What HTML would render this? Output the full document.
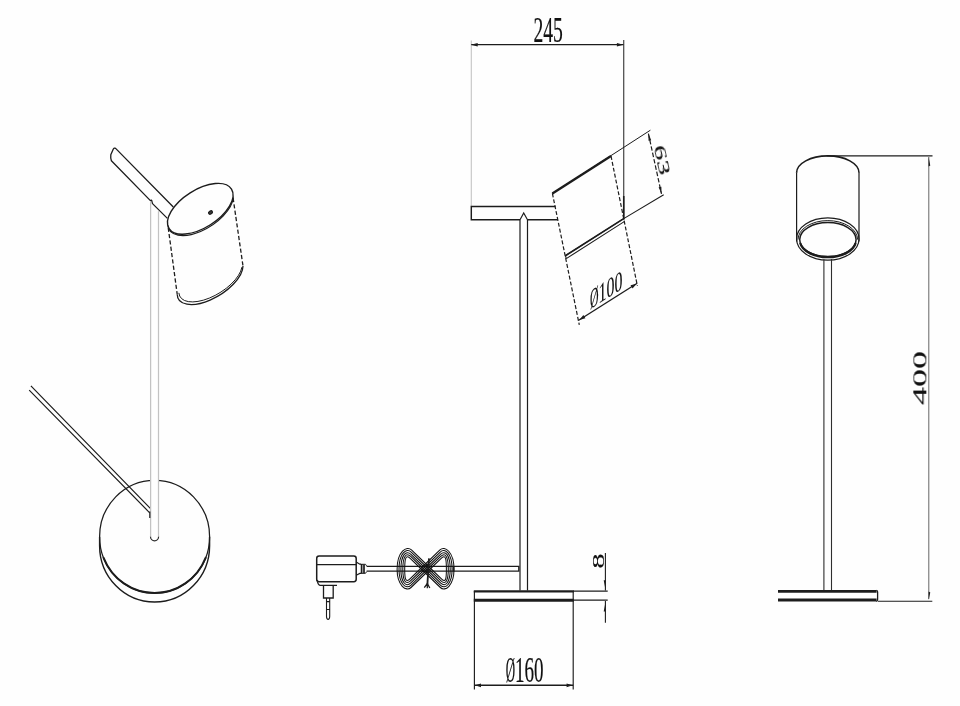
<!DOCTYPE html>
<html lang="en"><head><meta charset="utf-8"><title>Lamp drawing</title>
<style>html,body{margin:0;padding:0;background:#fff}svg{display:block}</style></head>
<body>
<svg width="960" height="706" viewBox="0 0 960 706">
<rect width="960" height="706" fill="#fefefe"/>
<path d="M173.3 207 L115.6 148.4 Q114.2 147.4 113.2 149.2 L110.8 154.8 Q110.4 157.8 111.4 160.8 L150.4 200.6 L151.6 200.2 L152.5 203.6 L167.4 218.4" stroke="#1c1c1c" stroke-width="1.3" fill="none" stroke-linejoin="round"/>
<ellipse cx="200.3" cy="208.8" rx="36.9" ry="18.9" transform="rotate(-32.3 200.3 208.8)" stroke="#1c1c1c" stroke-width="1.4" fill="none"/>
<path d="M167.82 225.24 A36.9 18.9 -32.3 0 0 233.28 197.56" stroke="#1c1c1c" stroke-width="1.15" fill="none"/>
<ellipse cx="210.5" cy="212.5" rx="2.1" ry="1.5" transform="rotate(-30 210.5 212.5)" stroke="#1c1c1c" stroke-width="1.2" fill="#3a3a3a"/>
<path d="M177.2 294.21 A36.95 17.9 -31.35 0 0 243 265.99" stroke="#1c1c1c" stroke-width="1.3" fill="none"/>
<path d="M178.85 292.87 A35.6 17.2 -31.35 0 0 241.96 267.09" stroke="#1c1c1c" stroke-width="1" fill="none"/>
<path d="M168.22 227.64 L177.2 294.21 M233.08 197.96 L243 265.99" stroke="#1c1c1c" stroke-width="1.3" stroke-dasharray="4.2 2.2" fill="none"/>
<path d="M30.9 385.9 L150.3 508.4 M29.2 390.2 L149.7 512.8" stroke="#1c1c1c" stroke-width="1.2" fill="none"/>
<ellipse cx="154.6" cy="536.7" rx="55" ry="56.3" stroke="#1c1c1c" stroke-width="1.25" fill="none"/>
<path d="M99.6 536.7 V545.7 A55 56.3 0 0 0 209.6 545.7 V536.7" stroke="#1c1c1c" stroke-width="1.4" fill="none"/>
<path d="M103.6 557.79 A55 56.3 0 0 0 205.6 557.79" stroke="#1c1c1c" stroke-width="2" fill="none" stroke-linecap="round"/>
<path d="M150.6 478 V537 A3.95 3.95 0 0 0 158.5 537 V478z" fill="#fefefe" stroke="none"/>
<path d="M150.6 201.2 V537.2 M158.5 211.2 V537.2" stroke="#c2c2c2" stroke-width="1.25" fill="none"/>
<path d="M150.5 536.8 A4 4 0 0 0 158.6 536.8" stroke="#2a2a2a" stroke-width="1.2" fill="none"/>
<path d="M149.8 511.6 V518" stroke="#1c1c1c" stroke-width="1.2" fill="none"/>
<path d="M471.3 40.5 V206.5" stroke="#c4c4c4" stroke-width="1.1" fill="none"/>
<path d="M471.3 44.7 H623.6" stroke="#1c1c1c" stroke-width="1.25" fill="none"/>
<path d="M470.9 44.7 l6.8 -1.8 v3.6z M623.4 44.7 l-6.5 -1.8 v3.6z" fill="#1c1c1c" stroke="none"/>
<path d="M623.75 40 V219.5" stroke="#2a2a2a" stroke-width="1.05" fill="none"/>
<path d="M623.75 196 V219.5" stroke="#1c1c1c" stroke-width="1.6" fill="none"/>
<path d="M555.5 206.4 H471.3 V219.8 H520 M527.5 219.8 H557.8" stroke="#1c1c1c" stroke-width="1.45" fill="none"/>
<path d="M520 590.5 V219.8 L523.7 213 L527.5 219.8 V590.5" stroke="#1c1c1c" stroke-width="1.2" fill="none" stroke-linejoin="miter"/>
<path d="M552.4 193.4 L650.4 130.2" stroke="#1c1c1c" stroke-width="1" fill="none"/>
<path d="M552.4 193.4 L611 156" stroke="#1c1c1c" stroke-width="2.4" fill="none"/>
<path d="M565.4 255.7 L623.3 218.9 L663.7 194.8 M566.3 258.6 L624.2 221.6 M565.4 255.7 L566.3 258.6" stroke="#1c1c1c" stroke-width="1.1" fill="none"/>
<path d="M565.4 255.7 L623.3 218.9" stroke="#1c1c1c" stroke-width="1.7" fill="none"/>
<path d="M552.4 193.4 L579.3 324.9 M611 156 L637.4 286" stroke="#1c1c1c" stroke-width="1.2" stroke-dasharray="4 2" fill="none"/>
<path d="M648.4 133.6 L661.5 193.9" stroke="#1c1c1c" stroke-width="1.2" stroke-dasharray="4.5 2" fill="none"/>
<path d="M578.7 320.3 L637.2 283.3" stroke="#1c1c1c" stroke-width="1.35" fill="none"/>
<path d="M579.3 319.9 L585.39 318.3 L583.36 315.09z" fill="#1c1c1c"/>
<path d="M636.6 283.7 L630.51 285.3 L632.54 288.51z" fill="#1c1c1c"/>
<path d="M648.4 133.6 L648.52 140.74 L651.25 140.14z" fill="#1c1c1c"/>
<path d="M661.5 193.9 L661.38 186.76 L658.65 187.36z" fill="#1c1c1c"/>
<path d="M473.8 591.3 H573.8" stroke="#1c1c1c" stroke-width="2.3" fill="none"/>
<path d="M573 591.1 H607.7" stroke="#1c1c1c" stroke-width="1.3" fill="none"/>
<path d="M473.8 600.3 H573.8" stroke="#1c1c1c" stroke-width="3" fill="none"/>
<path d="M573 600.1 H607.7" stroke="#1c1c1c" stroke-width="1.3" fill="none"/>
<path d="M474.4 591 V689.5 M573.2 591 V689.5" stroke="#1c1c1c" stroke-width="1.15" fill="none"/>
<path d="M474.6 685.3 H573.2" stroke="#1c1c1c" stroke-width="1.4" fill="none"/>
<path d="M475 685.3 l6 -1.9 v3.8z M572.6 685.3 l-6 -1.9 v3.8z" fill="#1c1c1c"/>
<path d="M605.4 553 V590.4 M605.4 601 V622.7" stroke="#1c1c1c" stroke-width="1.1" fill="none"/>
<path d="M605.6 590.2 l-1.9 -10 h1.9z M605.6 601.4 l-1.9 10 h1.9z" fill="#1c1c1c"/>
<path d="M366.6 566.4 H519 M366.6 571.1 H519 M518.8 565.8 V571.8" stroke="#1c1c1c" stroke-width="1.35" fill="none"/>
<rect x="316.7" y="556.1" width="39.5" height="25.6" rx="2.4" ry="2.4" stroke="#1c1c1c" stroke-width="1.5" fill="#fefefe"/>
<path d="M317 564.6 H356.2" stroke="#1c1c1c" stroke-width="1.35" fill="none"/>
<path d="M317.2 580 Q317.6 584.6 320 585.4 H337" stroke="#1c1c1c" stroke-width="1.3" fill="none"/>
<path d="M323.5 585.6 V598 H333.2 V585.6" stroke="#1c1c1c" stroke-width="1.3" fill="none"/>
<path d="M326.5 598 V616.5 Q326.6 619.4 328.1 619.4 Q329.6 619.4 329.7 616.5 V598 M326.5 601.6 H329.7 M326.5 609.5 H329.7" stroke="#1c1c1c" stroke-width="1.1" fill="none"/>
<path d="M356.2 561.9 L359.8 564.2 H361 M356.2 575.2 L359.8 573.4 H361" stroke="#1c1c1c" stroke-width="1.2" fill="none"/>
<path d="M361.6 564 V573.6 M364 564.4 V573.2" stroke="#1c1c1c" stroke-width="1.7" fill="none"/>
<path d="M360.6 564.3 H365.5 L366.6 565.9 M360.6 573.3 H365.5 L366.6 571.7" stroke="#1c1c1c" stroke-width="1" fill="none"/>
<path d="M430.7 568.5 L411.44 549.9 C406.76 545.38 397.1 551.5 397.1 569.3 C397.1 585.82 406.35 592.02 411.02 587.5 L430.7 568.5 L440.93 558.62 C445.61 554.1 446.4 558.3 446.4 569.3 C446.4 578.89 445.86 583.14 441.18 578.62 Z" stroke="#111" stroke-width="1.05" fill="none" stroke-linejoin="round"/>
<path d="M428.2 568.5 L411.2 552.08 C406.52 547.56 399 553.2 399 569.3 C399 584.08 406.15 589.8 410.82 585.28 L428.2 568.5 L440.69 556.44 C445.36 551.92 448.3 556.6 448.3 569.3 C448.3 580.62 445.65 585.36 440.98 580.84 Z" stroke="#111" stroke-width="1.05" fill="none" stroke-linejoin="round"/>
<path d="M425.7 568.5 L410.95 554.26 C406.28 549.74 400.9 554.9 400.9 569.3 C400.9 582.35 405.95 587.58 410.62 583.06 L425.7 568.5 L440.45 554.26 C445.12 549.74 450.2 554.9 450.2 569.3 C450.2 582.35 445.45 587.58 440.78 583.06 Z" stroke="#111" stroke-width="1.05" fill="none" stroke-linejoin="round"/>
<path d="M423.2 568.5 L410.71 556.44 C406.04 551.92 402.8 556.6 402.8 569.3 C402.8 580.62 405.75 585.36 410.42 580.84 L423.2 568.5 L440.2 552.08 C444.88 547.56 452.1 553.2 452.1 569.3 C452.1 584.08 445.25 589.8 440.58 585.28 Z" stroke="#111" stroke-width="1.05" fill="none" stroke-linejoin="round"/>
<path d="M420.7 568.5 L410.47 558.62 C405.79 554.1 404.7 558.3 404.7 569.3 C404.7 578.89 405.54 583.14 410.22 578.62 L420.7 568.5 L439.96 549.9 C444.64 545.38 454 551.5 454 569.3 C454 585.82 445.05 592.02 440.38 587.5 Z" stroke="#111" stroke-width="1.05" fill="none" stroke-linejoin="round"/>
<path d="M429 558.4 L427.4 584.2" stroke="#1c1c1c" stroke-width="1.8" fill="none"/>
<path d="M427.4 583.5 L424.3 587.6 M427.4 583.5 L427.3 588.3 M427.4 583.5 L429.8 588" stroke="#1c1c1c" stroke-width="1.3" fill="none"/>
<path d="M453.6 566.6 V571.6" stroke="#1c1c1c" stroke-width="1.6" fill="none"/>
<path d="M796.6 241.5 V172.5 M859 172.5 V241.5" stroke="#1c1c1c" stroke-width="1.2" fill="none"/>
<path d="M796.6 172.8 A31.2 16.9 0 0 1 859 172.8" stroke="#1c1c1c" stroke-width="1.6" fill="none"/>
<ellipse cx="827.8" cy="239" rx="31.2" ry="21.1" stroke="#1c1c1c" stroke-width="1.2" fill="none"/>
<path d="M798 239.6 A29.8 19 0 0 1 857.6 239.6" stroke="#1c1c1c" stroke-width="1" fill="none"/>
<ellipse cx="827.9" cy="239.6" rx="28.2" ry="17" stroke="#1c1c1c" stroke-width="1.5" fill="none"/>
<path d="M800.2 243 A28 16.6 0 0 0 855.6 243" stroke="#1c1c1c" stroke-width="2.3" fill="none"/>
<path d="M823.9 259.3 V590.5 M831.5 259.1 V590.5" stroke="#2e2e2e" stroke-width="1.1" fill="none"/>
<path d="M778 591.4 H876.6" stroke="#1c1c1c" stroke-width="2.6" fill="none"/>
<path d="M778 600 H876.6" stroke="#1c1c1c" stroke-width="2.9" fill="none"/>
<path d="M876.4 590.4 Q877.7 590.6 877.6 592 V599.5 Q877.6 601.2 876.2 601.4" stroke="#1c1c1c" stroke-width="1.3" fill="none"/>
<path d="M826.7 155.8 H932.5" stroke="#1c1c1c" stroke-width="1.3" fill="none"/>
<path d="M878 601.2 H932.3" stroke="#1c1c1c" stroke-width="1.1" fill="none"/>
<path d="M928.8 157 V599" stroke="#666" stroke-width="1" fill="none"/>
<path d="M928.6 157 l0 9.5 l1.7 -1z M928.6 600 l0 -8.5 l1.7 1z" fill="#1c1c1c"/>
<g opacity="0.999">
<text font-family="Liberation Serif, serif" font-size="36" text-anchor="middle" fill="#111" stroke="#111" stroke-width="0.22" transform="translate(548.2 42) scale(0.545 1)" >245</text>
<text font-family="Liberation Serif, serif" font-size="36" fill="#111" stroke="#111" stroke-width="0.22" transform="translate(515 682.2) scale(0.53 0.97)" x="-17.65"><tspan textLength="17.65" lengthAdjust="spacingAndGlyphs">Ø</tspan>160</text>
<text font-family="Liberation Serif, serif" font-size="36" fill="#111" stroke="#111" stroke-width="0.22" transform="translate(598.6 303.8) skewY(-32.31) scale(0.444 0.765)" x="-19.32"><tspan textLength="19.32" lengthAdjust="spacingAndGlyphs">Ø</tspan>100</text>
<text font-family="Liberation Serif, serif" font-size="36" text-anchor="middle" fill="#111" stroke="#111" stroke-width="0.22" transform="translate(656.5 161.3) rotate(77.74) scale(0.84 0.46)" >63</text>
<text font-family="Liberation Serif, serif" font-size="36" text-anchor="middle" fill="#111" stroke="#111" stroke-width="0.22" transform="translate(603.9 561) rotate(-90) scale(0.86 0.47)" >8</text>
<text font-family="Liberation Serif, serif" font-size="36" text-anchor="middle" fill="#111" stroke="#111" stroke-width="0.22" transform="translate(926.5 378) rotate(-90) scale(1.0 0.52)" >400</text>
</g>
</svg>
</body></html>
